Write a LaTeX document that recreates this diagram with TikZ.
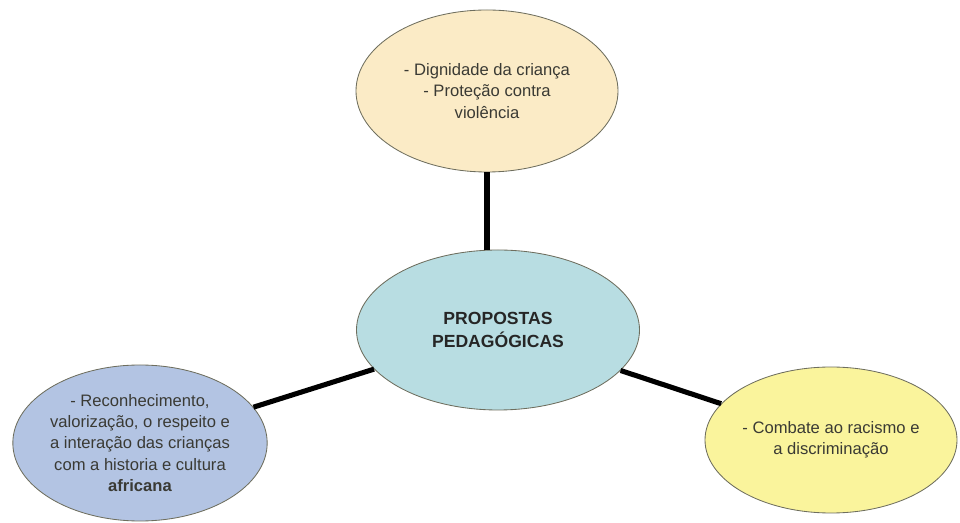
\documentclass[tikz,border=0pt]{standalone}
\usepackage{fontspec}
\setmainfont{Liberation Sans}
\usetikzlibrary{shapes.geometric}

\definecolor{creme}{HTML}{FBEBC6}
\definecolor{azulclaro}{HTML}{B8DDE2}
\definecolor{lilas}{HTML}{B3C4E3}
\definecolor{amarelo}{HTML}{FAF49C}
\definecolor{borda}{HTML}{6E6E5E}
\definecolor{texto}{HTML}{3A3A34}

\begin{document}
\begin{tikzpicture}[x = 0.025cm, y = -0.025cm,
  bolha/.style = {ellipse, draw = borda, line width = 0.6pt, inner sep = 0pt,
    align = center, text = texto, font = \fontsize{11.8}{15.2}\selectfont},
  liga/.style = {line width = 3.6pt, black}]
  \useasboundingbox (0, 0) rectangle (960, 523);		% 画像の大きさ

  % 楕円
  \node[bolha, fill = creme, minimum width = 262*0.025cm, minimum height = 162*0.025cm]
    (dignidade) at (487, 91) {- Dignidade da criança\\- Proteção contra\\violência};

  \node[bolha, fill = azulclaro, minimum width = 283*0.025cm, minimum height = 160*0.025cm,
    font = \fontsize{12.5}{16.5}\selectfont\bfseries, text = black!85]
    (propostas) at (498, 330) {PROPOSTAS\\PEDAGÓGICAS};

  \node[bolha, fill = lilas, minimum width = 254*0.025cm, minimum height = 156*0.025cm]
    (africana) at (140, 443) {- Reconhecimento,\\valorização, o respeito e\\a interação das crianças\\com a historia e cultura\\\textbf{africana}};

  \node[bolha, fill = amarelo, minimum width = 252*0.025cm, minimum height = 146*0.025cm]
    (racismo) at (831, 440) {- Combate ao racismo e\\a discriminação};

  % 線
  \draw[liga] (dignidade.south) -- (propostas.north -| dignidade.south);
  \draw[liga] (propostas) -- (africana);
  \draw[liga] (propostas) -- (racismo);
\end{tikzpicture}
\end{document}
